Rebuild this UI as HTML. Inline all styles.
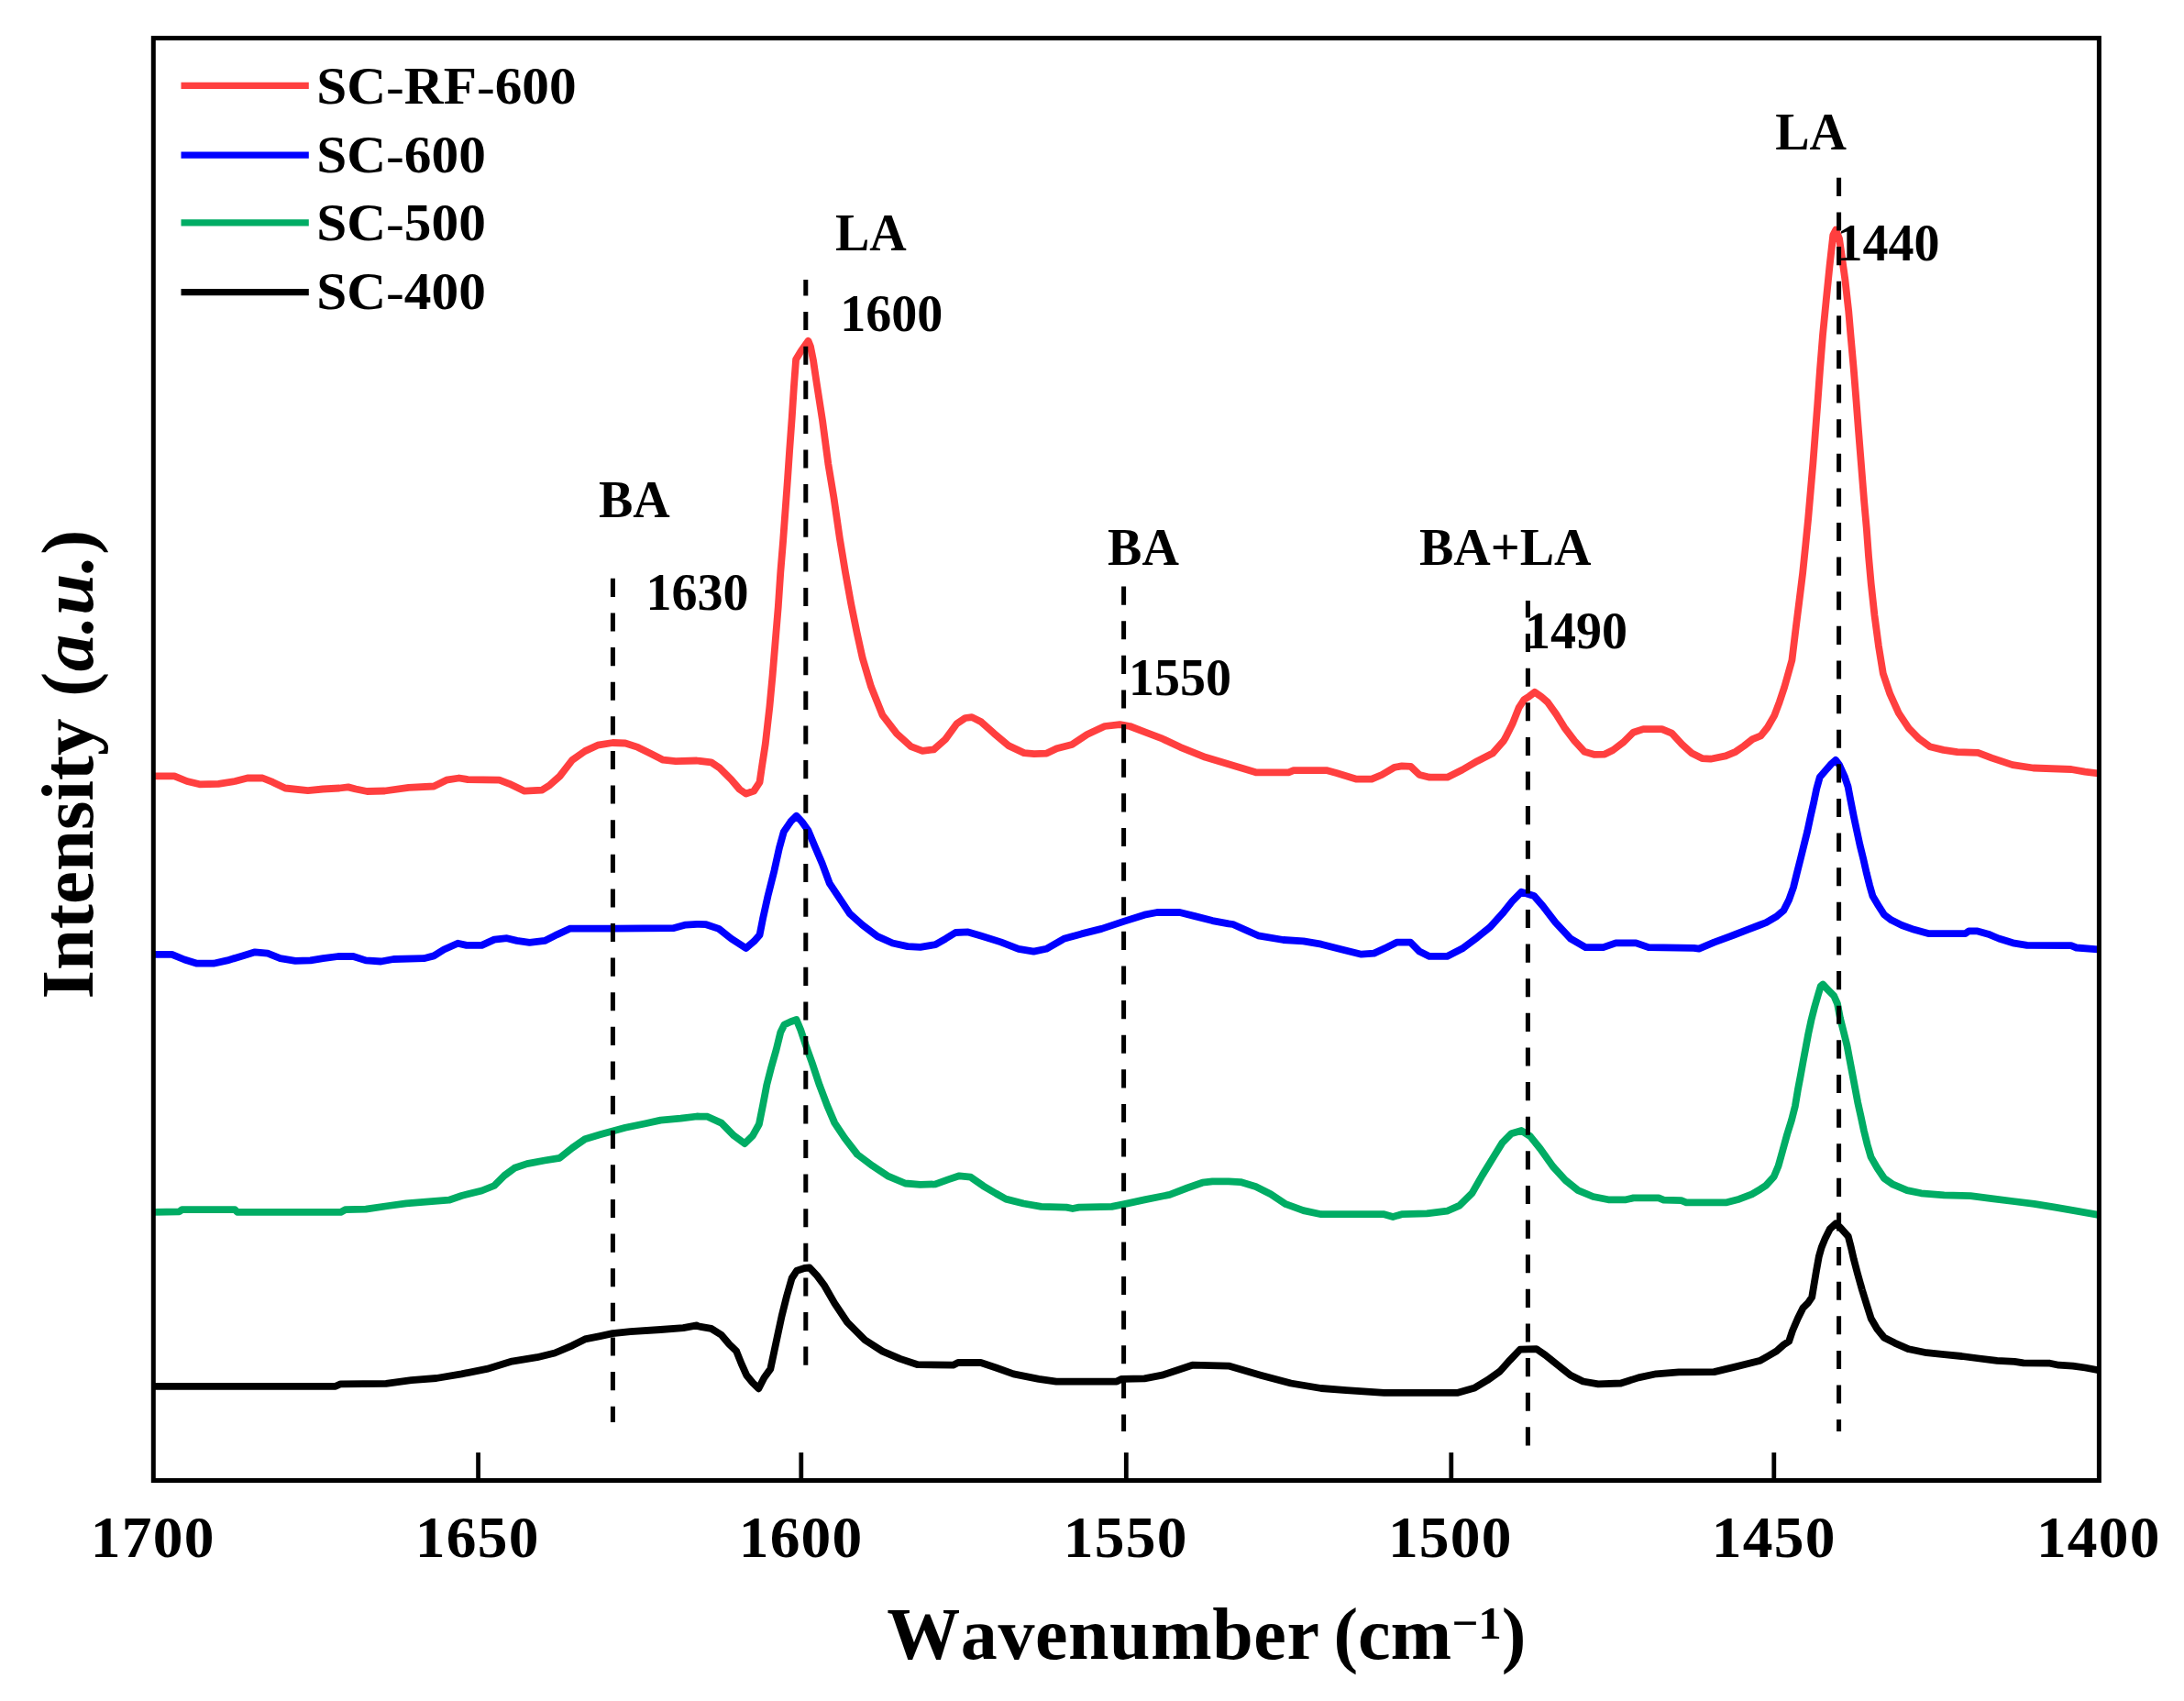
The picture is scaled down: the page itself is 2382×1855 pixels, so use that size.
<!DOCTYPE html>
<html lang="en"><head><meta charset="utf-8"><title>FTIR spectra</title>
<style>html,body{margin:0;padding:0;background:#fff}svg{display:block}text{font-kerning:none;font-family:"Liberation Serif","Times New Roman",serif;font-weight:bold;fill:#000}</style></head><body>
<svg width="2382" height="1855" viewBox="0 0 2382 1855">
<rect x="0" y="0" width="2382" height="1855" fill="#fff"/>
<polyline points="167.3,1511.8 366.0,1511.8 371.5,1509.3 421.0,1508.8 448.5,1505.2 475.9,1503.0 503.4,1498.4 530.9,1492.9 558.4,1484.6 585.8,1480.2 605.1,1475.5 624.3,1467.3 638.0,1460.4 654.5,1457.1 668.2,1454.1 687.5,1452.2 720.4,1450.0 745.2,1448.1 760.0,1445.3 760.6,1446.2 775.7,1448.9 786.7,1455.8 794.9,1465.4 803.2,1473.6 808.7,1487.4 814.2,1499.7 821.0,1508.0 827.4,1514.3 833.4,1502.5 840.3,1492.9 844.4,1473.6 848.5,1454.4 852.6,1435.2 858.1,1413.2 863.6,1394.0 869.1,1385.7 877.4,1383.0 882.9,1382.4 891.1,1391.2 899.3,1402.2 910.3,1421.4 924.1,1442.0 943.3,1461.3 962.5,1473.6 981.8,1481.9 1001.0,1488.2 1039.5,1488.7 1044.9,1486.0 1069.7,1486.0 1086.2,1491.5 1105.4,1498.4 1132.9,1503.8 1152.1,1506.6 1218.0,1506.6 1223.5,1503.8 1248.2,1503.3 1267.5,1499.7 1284.0,1494.2 1300.4,1488.7 1340.0,1489.6 1374.9,1499.7 1407.9,1508.5 1440.9,1514.0 1468.4,1516.2 1509.6,1518.9 1589.2,1518.9 1608.5,1513.4 1622.2,1505.2 1635.9,1495.5 1646.9,1483.2 1657.9,1471.6 1675.8,1471.1 1685.4,1477.7 1699.1,1488.7 1712.9,1499.7 1726.6,1506.5 1743.1,1509.3 1767.8,1508.5 1787.0,1502.4 1806.3,1498.3 1831.0,1496.4 1869.5,1496.1 1891.4,1490.9 1920.0,1483.7 1928.1,1479.0 1937.7,1473.3 1945.4,1466.5 1951.2,1462.7 1955.0,1451.2 1960.8,1437.7 1966.5,1426.2 1972.3,1420.4 1976.2,1414.6 1978.1,1403.1 1981.0,1385.8 1983.8,1370.4 1986.6,1360.5 1990.7,1350.4 1995.7,1340.4 2002.2,1334.3 2006.8,1338.4 2015.8,1348.4 2018.9,1360.5 2021.9,1373.6 2025.9,1388.7 2031.0,1406.9 2035.8,1422.3 2040.6,1437.7 2047.3,1449.2 2055.0,1458.8 2066.5,1464.6 2081.9,1471.3 2101.2,1475.2 2120.4,1477.1 2139.6,1479.0 2158.8,1481.5 2178.1,1483.8 2197.3,1484.8 2206.9,1486.3 2235.8,1486.7 2245.4,1488.7 2260.8,1489.6 2274.2,1491.5 2289.4,1494.4" fill="none" stroke="#000000" stroke-width="7.8" stroke-linejoin="round" stroke-linecap="butt"/>
<polyline points="167.3,1321.9 195.7,1321.3 198.5,1319.1 256.2,1319.1 258.9,1321.9 371.5,1321.9 377.0,1319.1 399.0,1318.6 423.7,1315.0 443.0,1312.3 467.7,1310.3 489.7,1308.7 503.4,1304.0 525.4,1298.5 539.1,1293.0 550.1,1282.0 561.1,1273.8 574.8,1269.1 594.1,1265.5 610.5,1262.8 624.3,1251.8 638.0,1242.2 654.5,1237.3 668.2,1233.4 682.0,1229.8 704.0,1225.2 720.4,1221.6 742.4,1219.7 760.0,1217.5 771.6,1217.7 786.7,1224.6 800.4,1238.4 812.3,1247.1 821.0,1238.4 827.9,1226.0 832.0,1205.4 836.2,1183.4 841.1,1164.2 846.6,1144.9 851.3,1125.7 855.4,1117.5 862.3,1114.2 868.6,1112.0 873.2,1123.0 878.7,1139.5 885.6,1158.7 893.8,1183.4 902.1,1205.4 910.3,1224.6 921.3,1241.1 935.1,1259.0 951.5,1271.3 968.0,1282.3 987.3,1290.5 1003.7,1291.9 1020.2,1291.4 1034.0,1286.4 1046.3,1282.3 1058.7,1283.7 1072.4,1293.3 1086.2,1301.5 1097.1,1307.6 1116.4,1312.5 1135.6,1315.8 1163.1,1316.6 1169.9,1318.0 1176.8,1316.6 1212.5,1315.8 1226.3,1313.1 1248.2,1308.4 1275.7,1302.9 1294.9,1295.5 1311.4,1289.7 1322.4,1288.4 1340.0,1288.4 1353.0,1289.1 1369.5,1294.0 1385.9,1302.3 1402.4,1313.2 1421.6,1320.1 1440.9,1324.2 1509.6,1324.2 1519.2,1327.0 1528.8,1324.2 1556.3,1323.4 1578.2,1320.7 1592.0,1314.6 1605.7,1300.9 1616.7,1281.6 1627.7,1263.8 1638.7,1245.9 1648.3,1236.3 1659.3,1233.0 1668.9,1239.1 1679.9,1252.8 1693.6,1272.0 1707.4,1287.1 1721.1,1298.1 1737.6,1305.0 1754.1,1308.3 1773.3,1308.3 1781.5,1306.4 1809.0,1306.4 1814.5,1308.6 1833.7,1309.1 1839.2,1311.3 1883.2,1311.3 1896.9,1307.7 1910.7,1302.3 1920.0,1296.8 1926.2,1292.7 1934.8,1283.1 1939.6,1271.5 1944.4,1254.2 1949.2,1236.9 1954.0,1221.5 1957.9,1206.2 1960.8,1188.8 1963.7,1173.5 1966.5,1158.1 1969.4,1142.7 1972.3,1127.3 1975.6,1111.9 1979.0,1098.5 1982.9,1085.0 1985.8,1075.4 1988.1,1073.5 1993.5,1079.2 2000.2,1086.0 2004.0,1094.6 2006.9,1110.0 2010.8,1125.4 2014.6,1140.8 2017.5,1156.2 2020.4,1171.5 2023.3,1186.9 2026.2,1202.3 2029.6,1217.7 2032.9,1233.1 2036.7,1248.5 2040.6,1261.9 2047.3,1273.5 2055.0,1285.0 2064.6,1291.7 2080.0,1298.1 2095.4,1301.3 2120.4,1303.3 2149.2,1304.2 2172.3,1307.1 2195.4,1310.0 2218.5,1312.9 2241.5,1316.7 2264.6,1320.6 2289.4,1325.0" fill="none" stroke="#00AC64" stroke-width="7.8" stroke-linejoin="round" stroke-linecap="butt"/>
<polyline points="167.3,1040.8 187.5,1040.8 201.2,1046.5 214.9,1050.7 232.8,1050.7 247.9,1047.4 264.4,1042.4 278.1,1038.3 291.9,1039.7 305.6,1045.2 322.1,1047.9 338.6,1047.4 352.3,1045.2 368.8,1043.0 385.3,1043.0 399.0,1047.4 415.5,1048.5 429.2,1046.0 462.2,1045.2 473.2,1042.4 484.2,1035.5 499.3,1028.7 508.9,1030.9 525.4,1030.9 539.1,1024.6 552.9,1023.2 563.8,1025.9 577.6,1027.9 594.1,1025.9 607.8,1019.1 621.5,1012.7 668.2,1012.7 734.2,1012.2 747.9,1008.6 760.0,1007.8 770.2,1008.2 784.0,1012.9 797.7,1023.8 813.6,1034.0 822.4,1026.6 828.5,1019.7 832.0,1001.9 837.5,977.1 844.4,949.7 849.9,924.9 854.8,907.1 862.3,896.1 868.6,889.8 874.6,896.1 881.5,905.7 888.4,922.2 896.6,941.4 904.8,963.4 915.8,979.9 926.8,996.4 940.5,1008.7 957.0,1021.1 973.5,1028.5 990.0,1032.1 1003.7,1032.9 1020.2,1030.2 1031.2,1023.8 1042.2,1017.0 1055.9,1016.4 1069.7,1020.5 1091.6,1027.4 1110.9,1034.8 1127.4,1037.6 1141.1,1034.8 1160.3,1023.8 1179.6,1018.4 1201.5,1012.9 1226.3,1004.6 1248.2,997.7 1262.0,995.0 1286.7,995.0 1303.2,999.1 1322.4,1004.1 1340.0,1007.4 1344.7,1008.0 1372.2,1020.3 1399.7,1025.0 1421.6,1026.4 1440.9,1029.7 1465.6,1036.0 1484.8,1040.7 1498.6,1039.6 1512.3,1033.2 1523.3,1027.7 1538.4,1027.7 1548.0,1037.4 1559.0,1042.9 1578.2,1042.9 1594.7,1034.6 1611.2,1022.3 1624.9,1011.3 1638.7,996.2 1649.7,982.4 1659.3,972.8 1673.0,976.9 1682.6,987.9 1696.4,1005.8 1712.9,1023.6 1729.3,1033.2 1748.6,1033.2 1762.3,1028.3 1784.3,1028.3 1798.0,1033.2 1847.5,1033.8 1853.0,1034.6 1869.5,1027.7 1891.4,1019.5 1920.0,1008.5 1926.2,1006.2 1937.7,999.4 1945.4,992.7 1951.2,981.2 1956.0,967.7 1959.8,952.3 1963.7,936.9 1967.5,921.5 1971.3,906.2 1974.6,890.8 1978.1,875.4 1981.3,860.0 1984.8,847.5 1991.5,839.8 1997.3,833.1 2002.1,828.8 2006.0,834.0 2011.7,846.5 2015.6,858.1 2018.5,873.5 2021.9,890.8 2025.2,906.2 2028.5,921.5 2032.3,936.9 2035.8,952.3 2039.2,965.8 2042.5,977.3 2048.3,986.9 2055.0,997.5 2062.7,1003.3 2074.2,1009.0 2087.7,1013.8 2103.1,1018.1 2143.5,1018.1 2147.3,1015.4 2156.9,1015.4 2168.5,1018.7 2180.0,1023.5 2195.4,1028.3 2210.8,1030.8 2258.8,1031.2 2264.6,1033.5 2289.4,1035.4" fill="none" stroke="#0000FF" stroke-width="7.8" stroke-linejoin="round" stroke-linecap="butt"/>
<polyline points="167.3,846.3 190.2,846.3 204.0,852.0 217.7,855.3 238.3,854.8 256.2,852.0 269.9,848.5 286.4,848.5 297.4,852.9 311.1,859.5 335.8,862.2 352.3,860.5 370.2,859.5 379.8,858.4 388.0,860.5 400.4,863.0 419.6,862.5 445.7,858.9 473.2,857.5 486.9,850.7 500.7,848.5 510.3,850.1 544.6,850.7 555.6,854.8 572.1,862.7 591.3,861.6 599.6,856.2 610.5,846.5 624.3,828.7 638.0,819.1 651.8,812.7 668.2,810.0 682.0,810.5 695.7,814.9 709.5,821.8 723.2,828.7 736.9,830.1 760.0,829.5 775.6,831.3 784.9,837.5 797.4,850.0 806.7,860.9 813.6,865.6 822.3,862.5 828.5,853.1 831.0,836.0 834.8,811.1 839.4,770.6 842.6,736.3 845.7,698.9 848.8,661.5 851.3,624.1 854.1,589.9 856.6,555.6 859.1,521.3 861.2,490.2 863.7,455.9 865.9,421.7 868.1,392.1 873.7,382.7 881.5,371.8 884.0,378.0 887.1,393.6 890.8,418.5 897.1,459.0 903.3,505.8 909.5,543.1 915.8,586.8 922.0,624.1 928.2,658.4 934.5,689.6 940.7,717.6 950.0,748.8 962.5,779.9 978.1,800.2 993.6,814.2 1006.1,818.8 1018.6,817.3 1031.0,806.4 1043.5,789.3 1052.8,783.0 1060.0,782.1 1070.2,787.3 1084.0,799.7 1100.4,813.4 1116.9,821.1 1127.9,822.2 1141.6,821.6 1152.6,816.2 1169.1,812.0 1185.6,801.0 1204.8,792.0 1221.3,790.1 1232.3,792.0 1248.8,798.3 1268.0,805.7 1287.3,814.8 1314.7,825.8 1342.2,834.0 1369.7,842.3 1405.4,842.3 1410.9,840.1 1446.6,840.1 1457.6,843.1 1479.6,849.7 1496.0,849.7 1507.0,845.0 1520.8,836.8 1529.0,835.4 1538.6,835.9 1548.2,845.0 1559.2,847.7 1578.5,847.7 1594.9,839.5 1611.4,829.9 1627.9,821.6 1640.0,807.9 1642.1,804.2 1649.5,789.6 1656.8,771.3 1662.3,763.0 1667.8,759.4 1673.8,754.8 1680.6,759.4 1687.9,765.8 1697.1,778.6 1706.2,793.3 1717.2,807.9 1728.2,819.8 1739.2,822.9 1750.2,822.6 1759.3,818.0 1770.3,809.7 1781.3,798.8 1792.3,795.1 1812.5,795.1 1823.4,799.7 1834.4,811.6 1845.4,821.6 1856.4,827.1 1865.6,827.7 1882.1,824.4 1893.0,819.8 1902.2,813.4 1911.4,806.1 1920.5,802.4 1927.8,793.3 1935.2,780.4 1940.7,765.8 1946.2,749.3 1949.8,736.5 1954.4,720.0 1958.6,685.4 1962.4,655.3 1966.1,625.2 1969.2,595.1 1972.2,565.0 1974.8,534.9 1977.4,504.8 1979.7,474.7 1982.3,440.8 1985.0,403.1 1988.0,365.5 1991.7,327.9 1995.5,290.2 1999.3,256.3 2002.3,250.7 2006.0,260.1 2008.7,278.9 2012.4,305.3 2016.2,339.2 2018.8,369.3 2021.8,403.1 2024.5,437.0 2027.1,470.9 2030.1,508.5 2033.1,546.2 2035.8,576.3 2038.0,606.4 2040.7,636.5 2044.4,670.4 2048.9,704.3 2053.8,734.4 2061.4,756.9 2070.8,777.6 2082.1,794.6 2093.4,805.9 2104.7,814.2 2119.7,817.9 2134.8,820.2 2157.3,820.9 2172.4,826.6 2195.0,834.1 2217.6,837.5 2259.0,839.0 2274.0,841.6 2289.4,843.5" fill="none" stroke="#FF3F3F" stroke-width="7.8" stroke-linejoin="round" stroke-linecap="butt"/>
<line x1="668.4" y1="630.8" x2="668.4" y2="1551.0" stroke="#000" stroke-width="5" stroke-dasharray="20.1 17.52" stroke-dashoffset="0.0"/>
<line x1="878.8" y1="304.9" x2="878.8" y2="1490.2" stroke="#000" stroke-width="5" stroke-dasharray="20.1 17.52" stroke-dashoffset="2.5"/>
<line x1="1225.6" y1="639.6" x2="1225.6" y2="1561.0" stroke="#000" stroke-width="5" stroke-dasharray="20.1 17.52" stroke-dashoffset="0.0"/>
<line x1="1666.4" y1="654.9" x2="1666.4" y2="1576.6" stroke="#000" stroke-width="5" stroke-dasharray="20.1 17.52" stroke-dashoffset="1.5"/>
<line x1="2005.6" y1="193.8" x2="2005.6" y2="1561.0" stroke="#000" stroke-width="5" stroke-dasharray="20.1 17.52" stroke-dashoffset="0.0"/>
<rect x="167.3" y="41.6" width="2122.1" height="1572.9" fill="none" stroke="#000" stroke-width="5.0"/>
<line x1="521.6" y1="1584" x2="521.6" y2="1614.5" stroke="#000" stroke-width="4.8"/>
<line x1="873.8" y1="1584" x2="873.8" y2="1614.5" stroke="#000" stroke-width="4.8"/>
<line x1="1228.3" y1="1584" x2="1228.3" y2="1614.5" stroke="#000" stroke-width="4.8"/>
<line x1="1582.8" y1="1584" x2="1582.8" y2="1614.5" stroke="#000" stroke-width="4.8"/>
<line x1="1934.8" y1="1584" x2="1934.8" y2="1614.5" stroke="#000" stroke-width="4.8"/>
<text transform="translate(166.7,1698) scale(1.020,1)" font-size="64.2" text-anchor="middle" letter-spacing="1.2">1700</text>
<text transform="translate(520.7,1698) scale(1.020,1)" font-size="64.2" text-anchor="middle" letter-spacing="1.2">1650</text>
<text transform="translate(873.6,1698) scale(1.020,1)" font-size="64.2" text-anchor="middle" letter-spacing="1.2">1600</text>
<text transform="translate(1227.7,1698) scale(1.020,1)" font-size="64.2" text-anchor="middle" letter-spacing="1.2">1550</text>
<text transform="translate(1581.8,1698) scale(1.020,1)" font-size="64.2" text-anchor="middle" letter-spacing="1.2">1500</text>
<text transform="translate(1934.7,1698) scale(1.020,1)" font-size="64.2" text-anchor="middle" letter-spacing="1.2">1450</text>
<text transform="translate(2288.8,1698) scale(1.020,1)" font-size="64.2" text-anchor="middle" letter-spacing="1.2">1400</text>
<line x1="197.5" y1="93.3" x2="336.8" y2="93.3" stroke="#FF3F3F" stroke-width="7.3"/>
<text transform="translate(345.2,112.6) scale(1.030,1)" font-size="57.6">SC<tspan font-weight="normal">-</tspan>RF<tspan font-weight="normal">-</tspan>600</text>
<line x1="197.5" y1="169.1" x2="336.8" y2="169.1" stroke="#0000FF" stroke-width="7.3"/>
<text transform="translate(345.2,187.8) scale(1.030,1)" font-size="57.6">SC<tspan font-weight="normal">-</tspan>600</text>
<line x1="197.5" y1="242.8" x2="336.8" y2="242.8" stroke="#00AC64" stroke-width="7.3"/>
<text transform="translate(345.2,261.6) scale(1.030,1)" font-size="57.6">SC<tspan font-weight="normal">-</tspan>500</text>
<line x1="197.5" y1="318.6" x2="336.8" y2="318.6" stroke="#000000" stroke-width="7.3"/>
<text transform="translate(345.2,336.8) scale(1.030,1)" font-size="57.6">SC<tspan font-weight="normal">-</tspan>400</text>
<text x="910.9" y="272.9" font-size="56">LA</text>
<text x="916.3" y="360.8" font-size="56">1600</text>
<text x="1936.2" y="163.0" font-size="56">LA</text>
<text x="2003.5" y="284.0" font-size="56">1440</text>
<text x="653.0" y="563.5" font-size="56">BA</text>
<text x="704.5" y="664.8" font-size="56">1630</text>
<text x="1208.1" y="616.2" font-size="56">BA</text>
<text x="1231.1" y="757.5" font-size="56">1550</text>
<text x="1548.0" y="616.2" font-size="56">BA+LA</text>
<text x="1663.0" y="706.5" font-size="56">1490</text>
<text x="967.3" y="1809" font-size="80"><tspan letter-spacing="0.55">Wavenumber</tspan><tspan dx="-5"> (cm</tspan><tspan font-size="51" dy="-22">−1</tspan><tspan dy="22">)</tspan></text>
<text transform="translate(100.7,1089.5) rotate(-90)" font-size="81">Intensity <tspan dx="3.5" letter-spacing="0.4">(<tspan font-style="italic">a.u.</tspan>)</tspan></text>
</svg></body></html>
